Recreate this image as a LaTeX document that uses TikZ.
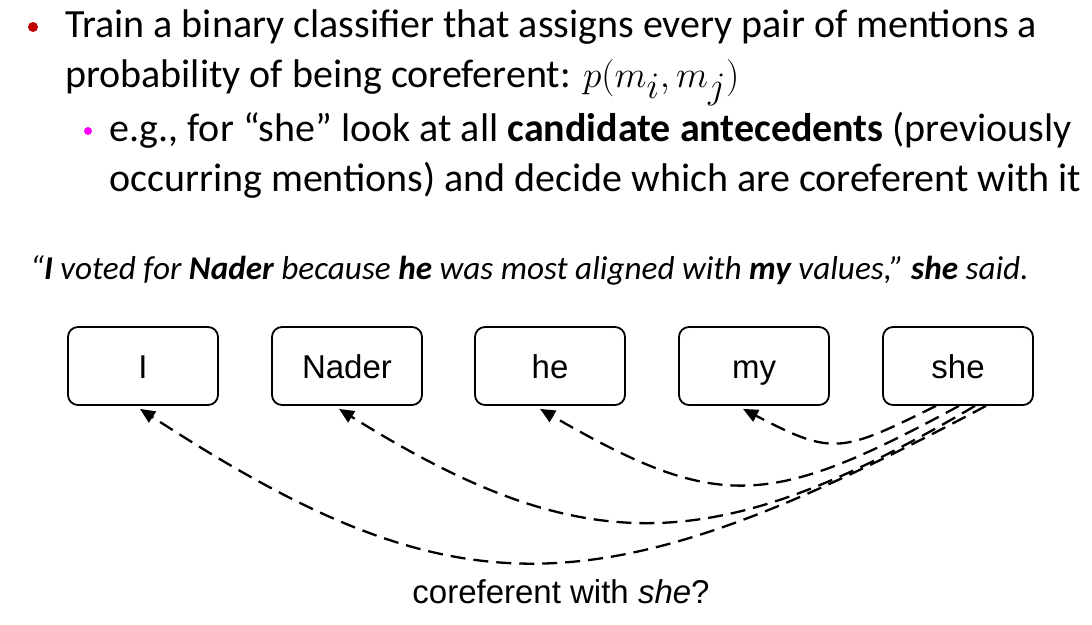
\documentclass[tikz,border=0pt]{standalone}
\usepackage{graphicx}
\usepackage{fontspec}
\setmainfont{Carlito}
\newfontfamily\arialfont{Liberation Sans}
\usetikzlibrary{arrows.meta}
\definecolor{bulletred}{HTML}{C00000}
\definecolor{bulletmag}{HTML}{FF00FF}
\tikzset{
  mention/.style={draw, line width=1.8pt, rounded corners=10pt, minimum width=150pt, minimum height=78pt,
    font=\arialfont\fontsize{33}{40}\selectfont, inner sep=0pt, text height=24pt, text depth=0pt},
  coref/.style={line width=2.3pt, dash pattern=on 15pt off 8pt, -{Triangle[length=15pt,width=13pt]}},
  bullettext/.style={anchor=base west, align=left, inner sep=0pt, font=\fontsize{40}{50}\selectfont},
}
\begin{document}
\begin{tikzpicture}[x=1pt,y=-1pt]
\useasboundingbox (0,0) rectangle (1092,624);
% bullets
\fill[bulletred] (33,27) circle (5pt);
\node[bullettext] (b1) at (65,87) {Train a binary classifier that assigns every pair of mentions a\\probability of being coreferent: \scalebox{1.5}{$p(m_i,m_j)$}};
\fill[bulletmag] (88,131) circle (4pt);
\node[bullettext] (b2) at (109,191) {e.g., for “she” look at all \textbf{candidate antecedents} (previously\\occurring mentions) and decide which are coreferent with it};
% sentence
\node[anchor=base west, inner sep=0pt, font=\itshape\fontsize{33.2}{40}\selectfont] (sent) at (30,279)
  {“\textbf{I} voted for \textbf{Nader} because \textbf{he} was most aligned with \textbf{my} values,” \textbf{she} said.};
% mention boxes
\node[mention] (I) at (143,366) {I};
\node[mention] (N) at (347,366) {Nader};
\node[mention] (he) at (550,366) {he};
\node[mention] (my) at (754,366) {my};
\node[mention] (she) at (958,366) {she};
% start points on she
\coordinate (s1) at ([xshift=-22pt]she.south);
\coordinate (s2) at ([xshift=1pt]she.south);
\coordinate (s3) at ([xshift=17pt]she.south);
\coordinate (s4) at ([xshift=28pt]she.south);
% connectors
\draw[coref] (s1) .. controls +(-95,47) and +(90,47) .. ([xshift=-11pt,yshift=-3pt]my.south);
\draw[coref] (s2) .. controls +(-190,103) and +(178,103) .. ([xshift=-10pt,yshift=-3pt]he.south);
\draw[coref] (s3) .. controls +(-260,153) and +(245,153) .. ([xshift=-8pt,yshift=-3pt]N.south);
\draw[coref] (s4) .. controls +(-389,207) and +(318,207) .. ([xshift=-3pt,yshift=-3pt]I.south);
% label
\node[anchor=base, inner sep=0pt, font=\arialfont\fontsize{33}{40}\selectfont] (lab) at (561,603) {coreferent with \textit{she}?};
\end{tikzpicture}
\end{document}
